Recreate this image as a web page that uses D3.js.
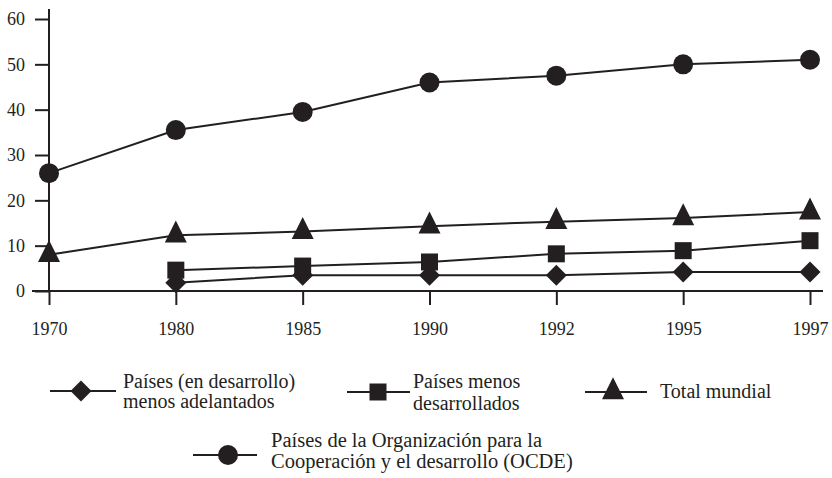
<!DOCTYPE html>
<html><head><meta charset="utf-8">
<script src="https://cdn.jsdelivr.net/npm/d3@7"></script>
<style>body{margin:0;background:#fff}svg{display:block}text{font-family:"Liberation Serif",serif;fill:#231f20}</style>
</head><body><svg id="c" width="832" height="478"></svg>
<script>
const years = ["1970","1980","1985","1990","1992","1995","1997"];
const yTicks = [0,10,20,30,40,50,60];
const ocde = [26, 35.5, 39.5, 46, 47.5, 50, 51];
const total = [8, 12.3, 13.1, 14.3, 15.3, 16.1, 17.4];
const menosDes = [null, 4.6, 5.5, 6.4, 8.2, 8.9, 11.1];
const menosAdel = [null, 1.8, 3.5, 3.5, 3.5, 4.2, 4.2];
const seriesNames = ["Países (en desarrollo)|menos adelantados","Países menos|desarrollados","Total mundial","Países de la Organización para la|Cooperación y el desarrollo (OCDE)"];

const C = "#231f20";
const svg = d3.select("#c");
const x = d3.scalePoint().domain(years).range([49, 810]).padding(0);
const y = d3.scaleLinear().domain([0, 60]).range([291, 19]);

function marker(type){
  if(type==="circle") return `M-10,0a10,10 0 1,0 20,0a10,10 0 1,0 -20,0Z`;
  if(type==="square") return `M-8.5,-8.5h17v17h-17Z`;
  if(type==="diamond") return `M0,-10.5L10.5,0L0,10.5L-10.5,0Z`;
  if(type==="triangle") return `M0,-14.7L11,7.3L-11,7.3Z`;
}

// axes
const xAxis = d3.axisBottom(x).tickSize(14).tickPadding(17);
const gx = svg.append("g").attr("transform","translate(0,291)").call(xAxis);
gx.select(".domain").attr("d","M32,0H823").attr("stroke",C).attr("stroke-width",2);
gx.selectAll(".tick line").attr("stroke",C).attr("stroke-width",2);
gx.selectAll(".tick text").attr("font-size",18).attr("fill",C).attr("font-family","Liberation Serif");

const yAxis = d3.axisLeft(y).tickValues(yTicks).tickSize(14).tickPadding(10);
const gy = svg.append("g").attr("transform","translate(49,0)").call(yAxis);
gy.select(".domain").attr("d","M0,9V291").attr("stroke",C).attr("stroke-width",2);
gy.selectAll(".tick line").attr("stroke",C).attr("stroke-width",2);
gy.selectAll(".tick text").attr("font-size",18).attr("fill",C).attr("font-family","Liberation Serif");

const series = [
  {vals: menosAdel, m:"diamond"},
  {vals: menosDes, m:"square"},
  {vals: total, m:"triangle"},
  {vals: ocde, m:"circle"}
];
const line = d3.line().defined(d=>d.v!=null).x(d=>x(d.k)).y(d=>y(d.v));
series.forEach(s=>{
  const pts = years.map((k,i)=>({k, v:s.vals[i]}));
  svg.append("path").attr("d", line(pts)).attr("fill","none").attr("stroke",C).attr("stroke-width",2);
  svg.selectAll(null).data(pts.filter(d=>d.v!=null)).enter().append("path")
    .attr("d", marker(s.m)).attr("fill",C)
    .attr("transform", d=>`translate(${x(d.k)},${y(d.v)})`);
});

// legend
const leg = [
  {m:"diamond", x0:50, x1:116, cx:81, cy:391, tx:123, ty:[388,408], fs:20},
  {m:"square", x0:347, x1:410, cx:378, cy:392, tx:413, ty:[388,410], fs:20},
  {m:"triangle", x0:585, x1:647, cx:613, cy:392, tx:660, ty:[398], fs:20},
  {m:"circle", x0:193, x1:257, cx:228, cy:455, tx:271, ty:[447,468], fs:20.5}
];
leg.forEach((l,i)=>{
  const g = svg.append("g");
  g.append("line").attr("x1",l.x0).attr("x2",l.x1).attr("y1",l.cy).attr("y2",l.cy).attr("stroke",C).attr("stroke-width",2);
  g.append("path").attr("d",marker(l.m)).attr("fill",C).attr("transform",`translate(${l.cx},${l.cy})`);
  seriesNames[i].split("|").forEach((t,j)=>{
    g.append("text").attr("x",l.tx).attr("y",l.ty[j]).attr("font-size",l.fs).text(t);
  });
});
</script></body></html>
